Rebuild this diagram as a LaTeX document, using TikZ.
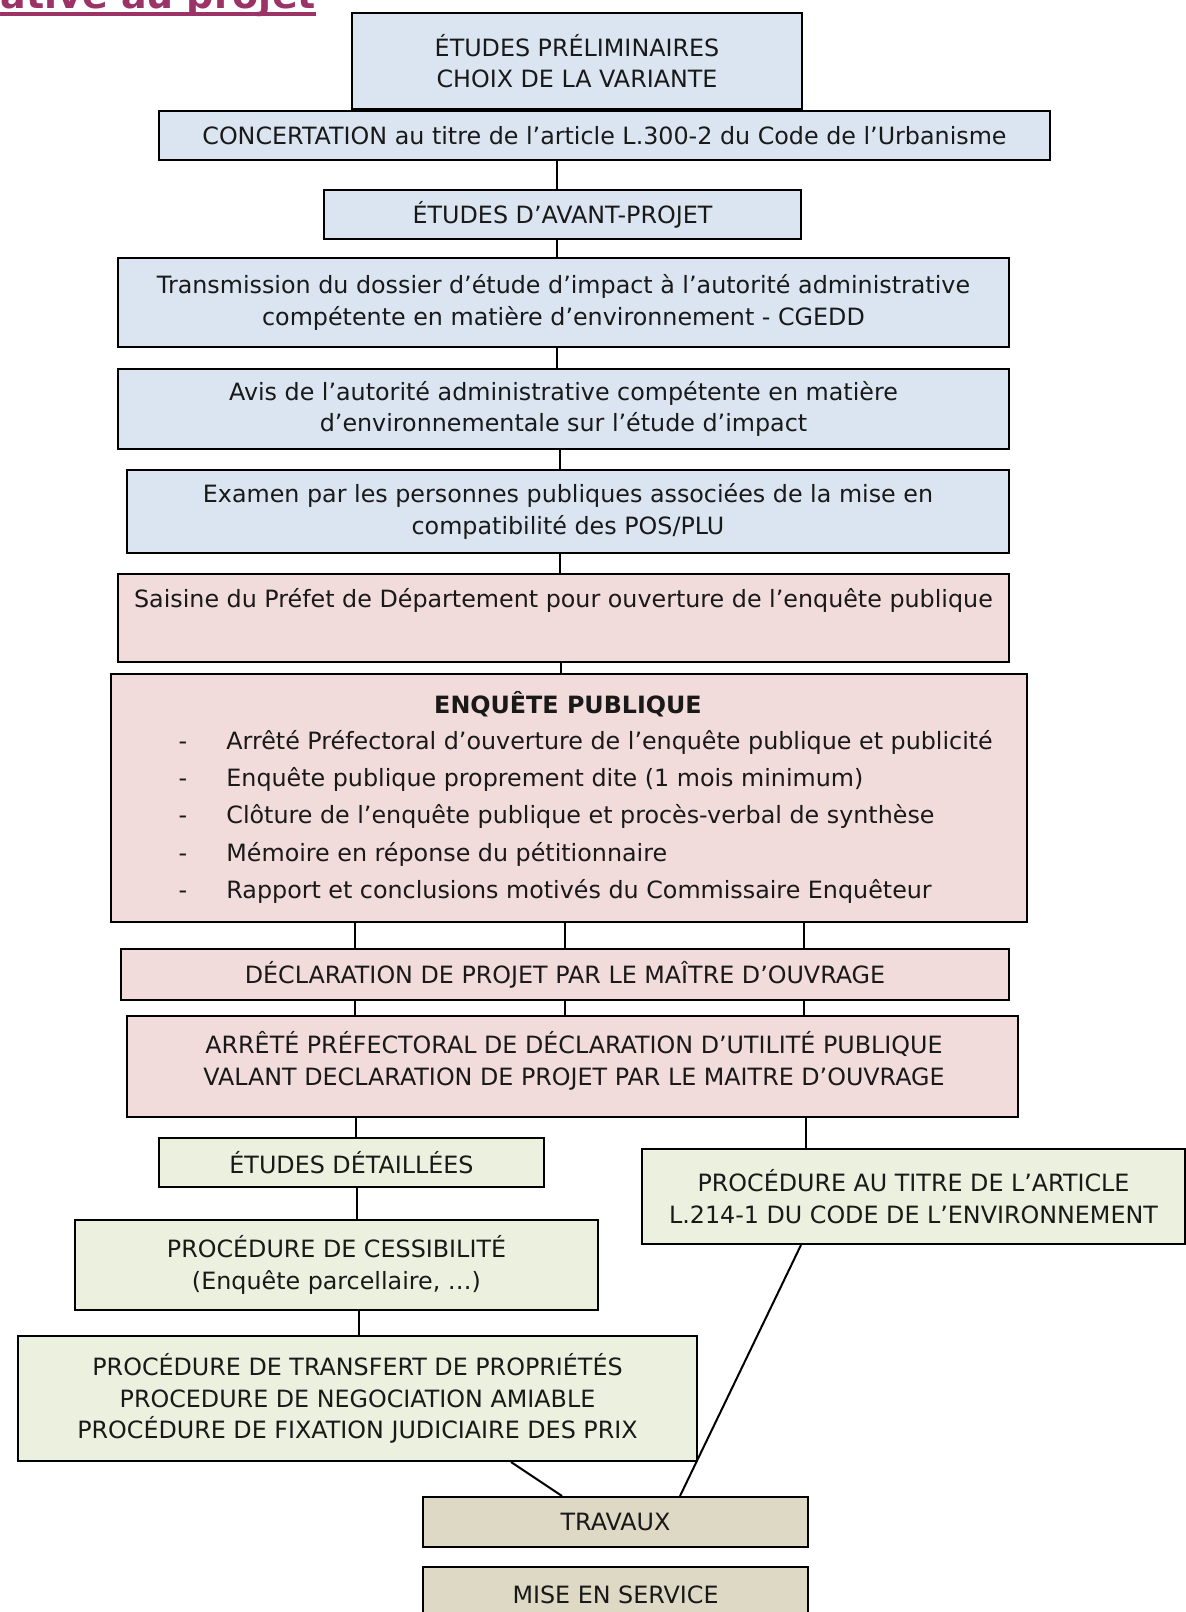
\documentclass[tikz,border=0pt]{standalone}
\usepackage{fontspec}
\setmainfont{DejaVu Sans}
\definecolor{bluefill}{HTML}{DBE5F1}
\definecolor{pinkfill}{HTML}{F2DCDB}
\definecolor{greenfill}{HTML}{EBF1DE}
\definecolor{tanfill}{HTML}{DDD9C4}
\definecolor{titlecol}{HTML}{9B3366}
\tikzset{
  boxbase/.style={draw=black, line width=1pt, rectangle, inner sep=0pt, align=center,
    font=\fontsize{11.9}{15.75}\selectfont, text=black!90},
  bluebox/.style={boxbase, fill=bluefill},
  pinkbox/.style={boxbase, fill=pinkfill},
  greenbox/.style={boxbase, fill=greenfill},
  tanbox/.style={boxbase, fill=tanfill},
  plain/.style={inner sep=0pt, font=\fontsize{11.9}{15.75}\selectfont, text=black!90},
  link/.style={draw=black, line width=1pt}
}
\begin{document}
\begin{tikzpicture}[x=0.5pt,y=-0.5pt]
\useasboundingbox (0,0) rectangle (1186,1612);
\clip (0,0) rectangle (1186,1612);
\fill[white] (0,0) rectangle (1186,1612);

% cut-off title
\node[anchor=base west, inner sep=0pt, text=titlecol, font=\fontsize{19}{21}\bfseries] (title) at (0,8) {ative au projet};
\draw[titlecol, line width=2pt] ([yshift=-3pt]title.base west) -- ([yshift=-3pt]title.base east);

% boxes
\node[bluebox, minimum width=225pt, minimum height=48pt] (b1) at (577,61)
  {ÉTUDES PRÉLIMINAIRES\\CHOIX DE LA VARIANTE};
\node[bluebox, minimum width=445.5pt, minimum height=24.5pt] (b2) at (604.5,135.5)
  {CONCERTATION au titre de l’article L.300-2 du Code de l’Urbanisme};
\node[bluebox, minimum width=238.5pt, minimum height=24.5pt] (b3) at (562.5,214.5)
  {ÉTUDES D’AVANT-PROJET};
\node[bluebox, minimum width=445.5pt, minimum height=44.5pt] (b4) at (563.5,302.5)
  {Transmission du dossier d’étude d’impact à l’autorité administrative\\compétente en matière d’environnement - CGEDD};
\node[bluebox, minimum width=445.5pt, minimum height=40pt] (b5) at (563.5,409)
  {Avis de l’autorité administrative compétente en matière\\d’environnementale sur l’étude d’impact};
\node[bluebox, minimum width=441pt, minimum height=41.5pt] (b6) at (568,511.5)
  {Examen par les personnes publiques associées de la mise en\\compatibilité des POS/PLU};
\node[pinkbox, minimum width=445.5pt, minimum height=44pt] (b7) at (563.5,618)
  {Saisine du Préfet de Département pour ouverture de l’enquête publique\\\strut};
\node[pinkbox, minimum width=458pt, minimum height=124pt] (b8) at (569,798) {};
\node[pinkbox, minimum width=444pt, minimum height=25.5pt] (b9) at (565,974.5)
  {DÉCLARATION DE PROJET PAR LE MAÎTRE D’OUVRAGE};
\node[pinkbox, minimum width=445.5pt, minimum height=50.5pt] (b10) at (572.5,1066.5) {};
\node[greenbox, minimum width=192.5pt, minimum height=24.5pt] (b11) at (351.5,1162.5)
  {ÉTUDES DÉTAILLÉES};
\node[greenbox, minimum width=271.5pt, minimum height=47.5pt] (b12) at (913.5,1196.5)
  {PROCÉDURE AU TITRE DE L’ARTICLE\\L.214-1 DU CODE DE L’ENVIRONNEMENT};
\node[greenbox, minimum width=261.5pt, minimum height=45pt] (b13) at (336.5,1265)
  {PROCÉDURE DE CESSIBILITÉ\\(Enquête parcellaire, …)};
\node[greenbox, minimum width=339.5pt, minimum height=62.5pt] (b14) at (357.5,1398.5)
  {PROCÉDURE DE TRANSFERT DE PROPRIÉTÉS\\PROCEDURE DE NEGOCIATION AMIABLE\\PROCÉDURE DE FIXATION JUDICIAIRE DES PRIX};
\node[tanbox, minimum width=192.5pt, minimum height=25pt] (b15) at (615.5,1522)
  {TRAVAUX};
\node[tanbox, minimum width=192.5pt, minimum height=28pt] (b16) at (615.5,1595)
  {MISE EN SERVICE};

% texts of the enquete box
\coordinate (xdash) at (183,0);
\node[plain, font=\fontsize{11.9}{15.75}\bfseries] (t8) at (568,704) {ENQUÊTE PUBLIQUE};
\foreach \yy/\tx [count=\i] in {742/{Arrêté Préfectoral d’ouverture de l’enquête publique et publicité},
  779/{Enquête publique proprement dite (1 mois minimum)},
  816/{Clôture de l’enquête publique et procès-verbal de synthèse},
  854/{Mémoire en réponse du pétitionnaire},
  891/{Rapport et conclusions motivés du Commissaire Enquêteur}} {
  \node[plain, anchor=west] (i\i) at (226,\yy) {\tx};
  \node[plain, anchor=base] (d\i) at (i\i.base -| xdash) {-};
}
\node[plain, align=center] (t10) at (574,1061)
  {ARRÊTÉ PRÉFECTORAL DE DÉCLARATION D’UTILITÉ PUBLIQUE\\VALANT DECLARATION DE PROJET PAR LE MAITRE D’OUVRAGE};

% x positions of vertical links
\coordinate (x557) at (557,0);
\coordinate (x560) at (560,0);
\coordinate (x561) at (561,0);
\coordinate (x355) at (355,0);
\coordinate (x565) at (565,0);
\coordinate (x804) at (804,0);
\coordinate (x806) at (806,0);
\coordinate (x356) at (356,0);
\coordinate (x357) at (357,0);
\coordinate (x359) at (359,0);

% connectors
\draw[link] (b2.south -| x557) -- (b3.north -| x557);
\draw[link] (b3.south -| x557) -- (b4.north -| x557);
\draw[link] (b4.south -| x557) -- (b5.north -| x557);
\draw[link] (b5.south -| x560) -- (b6.north -| x560);
\draw[link] (b6.south -| x560) -- (b7.north -| x560);
\draw[link] (b7.south -| x561) -- (b8.north -| x561);
\draw[link] (b8.south -| x355) -- (b9.north -| x355);
\draw[link] (b8.south -| x565) -- (b9.north -| x565);
\draw[link] (b8.south -| x804) -- (b9.north -| x804);
\draw[link] (b9.south -| x355) -- (b10.north -| x355);
\draw[link] (b9.south -| x565) -- (b10.north -| x565);
\draw[link] (b9.south -| x804) -- (b10.north -| x804);
\draw[link] (b10.south -| x356) -- (b11.north -| x356);
\draw[link] (b10.south -| x806) -- (b12.north -| x806);
\draw[link] (b11.south -| x357) -- (b13.north -| x357);
\draw[link] (b13.south -| x359) -- (b14.north -| x359);
\draw[link] ([xshift=76.75pt]b14.south) -- ([xshift=-26.75pt]b15.north);
\draw[link] ([xshift=-56.25pt]b12.south) -- ([xshift=32.25pt]b15.north);
\end{tikzpicture}
\end{document}
